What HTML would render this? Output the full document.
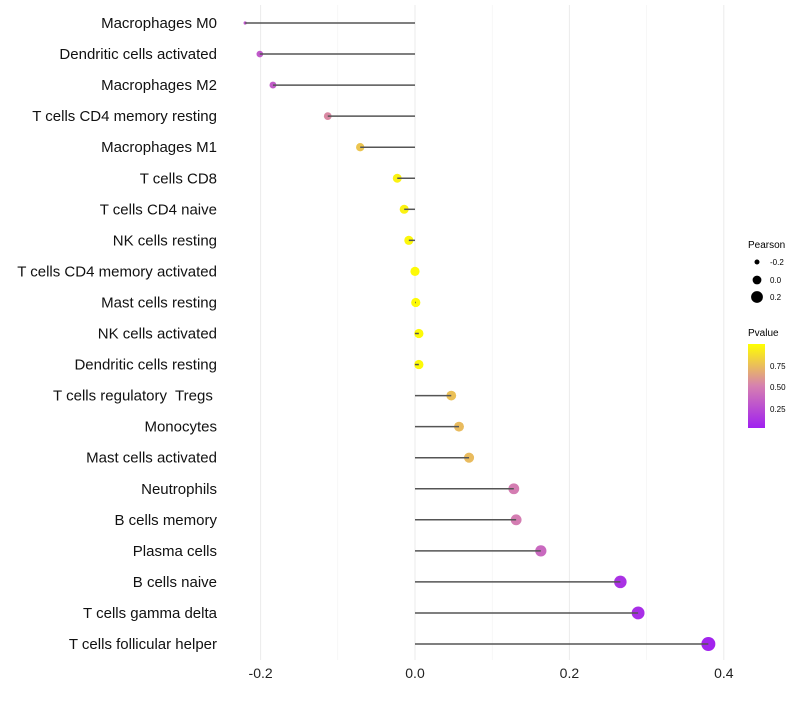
<!DOCTYPE html>
<html><head><meta charset="utf-8"><style>
body{margin:0;background:#fff;font-family:"Liberation Sans",sans-serif}
text{white-space:pre}
</style></head><body>
<svg id="chart" width="800" height="700" xmlns="http://www.w3.org/2000/svg" font-family="Liberation Sans, sans-serif">
<defs><linearGradient id="pg" x1="0" y1="1" x2="0" y2="0">
<stop offset="0" stop-color="#a020f0"/><stop offset="0.5" stop-color="#d680b0"/><stop offset="1" stop-color="#ffff00"/>
</linearGradient></defs>
<g id="grid"></g><g id="marks"></g><g id="labels"></g>
<g>
<text x="748" y="248" font-size="10" fill="#000">Pearson</text>
<circle cx="757" cy="262" r="2.5" fill="#000"/><text x="770" y="265" font-size="8">-0.2</text>
<circle cx="757" cy="280" r="4.4" fill="#000"/><text x="770" y="283" font-size="8">0.0</text>
<circle cx="757" cy="297" r="5.9" fill="#000"/><text x="770" y="300" font-size="8">0.2</text>
<text x="748" y="336" font-size="10" fill="#000">Pvalue</text>
<rect x="748" y="344" width="17" height="84" fill="url(#pg)"/>
<text x="770" y="369" font-size="8">0.75</text>
<text x="770" y="390" font-size="8">0.50</text>
<text x="770" y="412" font-size="8">0.25</text>
</g>
</svg>
<script>
const categories=["Macrophages M0","Dendritic cells activated","Macrophages M2","T cells CD4 memory resting","Macrophages M1","T cells CD8","T cells CD4 naive","NK cells resting","T cells CD4 memory activated","Mast cells resting","NK cells activated","Dendritic cells resting","T cells regulatory  Tregs ","Monocytes","Mast cells activated","Neutrophils","B cells memory","Plasma cells","B cells naive","T cells gamma delta","T cells follicular helper"];
const pearson=[-0.220,-0.201,-0.184,-0.113,-0.071,-0.023,-0.014,-0.008,0.0,0.001,0.005,0.005,0.047,0.057,0.070,0.128,0.131,0.163,0.266,0.289,0.380];
const pvalue=[0.3,0.32,0.33,0.55,0.78,0.95,0.95,0.97,0.98,0.98,0.98,0.98,0.76,0.74,0.74,0.5,0.5,0.4,0.12,0.1,0.05];
const ticks=[-0.2,0.0,0.2,0.4];
const minorTicks=[-0.1,0.1,0.3];
const NS="http://www.w3.org/2000/svg";
const x=v=>415+v*772;
const y=i=>23+i*31.05;
const rad=v=>v<-0.21?1.6:Math.max(2.5,4.6+6.3*v);
function col(p){const t=Math.max(0,Math.min(1,(p-0.03)/0.97));
const a=[160,32,240],m=[214,128,176],b=[255,255,0];let c;
if(t<0.5){const s=t/0.5;c=a.map((v,k)=>v+(m[k]-v)*s);}else{const s=(t-0.5)/0.5;c=m.map((v,k)=>v+(b[k]-v)*s);}
return `rgb(${c.map(Math.round).join(",")})`;}
function mk(tag,at,parent){const e=document.createElementNS(NS,tag);for(const k in at)e.setAttribute(k,at[k]);parent.appendChild(e);return e;}
const grid=document.getElementById('grid'),marks=document.getElementById('marks'),labels=document.getElementById('labels');
minorTicks.forEach(t=>{const l=mk('line',{x1:x(t),x2:x(t),y1:5,y2:660,stroke:'#f2f2f2','stroke-width':0.6},grid);

});
ticks.forEach(t=>{const l=mk('line',{x1:x(t),x2:x(t),y1:5,y2:660,stroke:'#ebebeb','stroke-width':1},grid);


const tx=mk('text',{x:x(t),y:678,'font-size':14,'text-anchor':'middle',fill:'#222'},labels);tx.textContent=t.toFixed(1);

});
categories.forEach((c,i)=>{
const tx=mk('text',{x:217,y:y(i)+5,'font-size':15,'text-anchor':'end',fill:'#111'},labels);tx.textContent=c;


const dot=mk('circle',{cx:x(pearson[i]),cy:y(i),r:rad(pearson[i]),fill:col(pvalue[i])},marks);


const s=mk('line',{x1:x(0),x2:x(pearson[i]),y1:y(i),y2:y(i),stroke:'#555','stroke-width':1.5},marks);


});
</script>
</body></html>
